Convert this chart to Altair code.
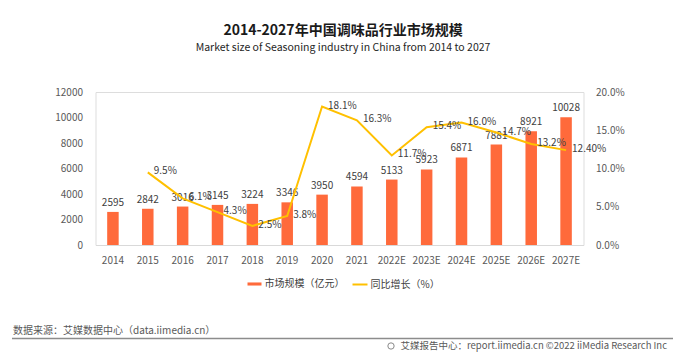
import altair as alt
import pandas as pd

FONT = "Noto Sans CJK SC"

years = ["2014", "2015", "2016", "2017", "2018", "2019", "2020", "2021",
         "2022E", "2023E", "2024E", "2025E", "2026E", "2027E"]
market_size = [2595, 2842, 3016, 3145, 3224, 3346, 3950, 4594,
               5133, 5923, 6871, 7881, 8921, 10028]
growth = [None, 9.5, 6.1, 4.3, 2.5, 3.8, 18.1, 16.3,
          11.7, 15.4, 16.0, 14.7, 13.2, 12.4]
growth_labels = ["", "9.5%", "6.1%", "4.3%", "2.5%", "3.8%", "18.1%", "16.3%",
                 "11.7%", "15.4%", "16.0%", "14.7%", "13.2%", "12.40%"]
left_ticks = [0, 2000, 4000, 6000, 8000, 10000, 12000]
right_ticks = [0, 5, 10, 15, 20]

bar_name = "市场规模（亿元）"
line_name = "同比增长（%）"
title_text = "2014-2027年中国调味品行业市场规模"
subtitle_text = "Market size of Seasoning industry in China from 2014 to 2027"
source_text = "数据来源：艾媒数据中心（data.iimedia.cn）"
footer_text = "艾媒报告中心：report.iimedia.cn   ©2022  iiMedia Research  Inc"

BAR_COLOR = "#FF6A3B"
LINE_COLOR = "#FFC000"
TXT = "#404040"
AX = "#595959"

df = pd.DataFrame({"year": years, "size": market_size,
                   "growth": growth, "glabel": growth_labels,
                   "bseries": [bar_name] * len(years),
                   "lseries": [line_name] * len(years)})

W, H = 488, 153

x_scale = alt.Scale(paddingInner=0.67, paddingOuter=0.335)
x_axis = alt.Axis(labelAngle=0, labelFont=FONT, labelFontSize=10,
                  labelColor=AX, labelPadding=10, ticks=False,
                  domain=True, domainColor="#D9D9D9", domainWidth=1.2,
                  grid=False, labelOverlap=False)
x_enc = alt.X("year:N", sort=years, title=None, scale=x_scale, axis=x_axis)

left_scale = alt.Scale(domain=[0, 12000], nice=False)
left_axis = alt.Axis(values=left_ticks, format="d",
                     labelFont=FONT, labelOverlap=False,
                     labelFontSize=10, labelColor=AX, labelPadding=13,
                     ticks=False, domain=False, grid=False)
y_left = alt.Y("size:Q", title=None, scale=left_scale, axis=left_axis)

right_scale = alt.Scale(domain=[0, 20], nice=False)
right_axis = alt.Axis(orient="right", values=right_ticks,
                      labelExpr="format(datum.value, '.1f') + '%'",
                      labelOverlap=False,
                      labelFont=FONT, labelFontSize=10, labelColor=AX,
                      labelPadding=12, ticks=False, domain=False, grid=False)
y_right = alt.Y("growth:Q", title=None, scale=right_scale, axis=right_axis)

base = alt.Chart(df)

bars = base.mark_bar(size=11.5).encode(
    x=x_enc,
    y=y_left,
    color=alt.Color("bseries:N",
                    scale=alt.Scale(domain=[bar_name], range=[BAR_COLOR]),
                    legend=alt.Legend(orient="none", legendX=151, legendY=184,
                                      title=None, symbolType="M-1,-0.22H1V0.22H-1Z",
                                      symbolSize=196, symbolOpacity=1,
                                      labelFont=FONT, labelFontSize=10,
                                      labelColor=TXT, labelOffset=2, padding=0)),
)

bar_text = base.mark_text(font=FONT, fontSize=10, color=TXT, dy=-6,
                          baseline="alphabetic", align="center").encode(
    x=x_enc,
    y=y_left,
    text="size:Q",
)

left = alt.layer(bars, bar_text)

line = base.mark_line(strokeWidth=2).encode(
    x=x_enc,
    y=y_right,
    stroke=alt.Stroke("lseries:N",
                      scale=alt.Scale(domain=[line_name], range=[LINE_COLOR]),
                      legend=alt.Legend(orient="none", legendX=256, legendY=184,
                                        title=None, symbolType="stroke",
                                        symbolSize=225, symbolStrokeWidth=2,
                                        labelFont=FONT, labelFontSize=10,
                                        labelColor=TXT, labelOffset=2, padding=0)),
)

line_text = base.transform_filter("datum.growth != null").mark_text(
    font=FONT, fontSize=10, color=TXT, align="left", baseline="middle", dx=6, dy=-1
).encode(
    x=x_enc,
    y=y_right,
    text="glabel:N",
)

right = alt.layer(line, line_text)

one = pd.DataFrame({"k": [0]})
src = alt.Chart(one).mark_text(font=FONT, fontSize=10, color=AX, align="left",
                               baseline="middle").encode(
    x=alt.value(13 - 95.5), y=alt.value(331 - 92), text=alt.value(source_text))
rule = alt.Chart(one).mark_rule(color="#8C8C8C", strokeWidth=1.5).encode(
    x=alt.value(12 - 95.5), x2=alt.value(673 - 95.5), y=alt.value(338.5 - 92))
foot = alt.Chart(one).mark_text(font=FONT, fontSize=9.5, color=AX, align="right",
                                baseline="middle").encode(
    x=alt.value(667 - 95.5), y=alt.value(346 - 92), text=alt.value(footer_text))
globe = alt.Chart(one).mark_point(shape="circle", size=40, color=AX, strokeWidth=1,
                                  filled=False).encode(
    x=alt.value(391 - 95.5), y=alt.value(346 - 92))

chart = alt.layer(left, right, src, rule, foot, globe).resolve_scale(
    y="independent", color="independent", stroke="independent"
).properties(
    width=W, height=H,
    autosize=alt.AutoSizeParams(type="none"),
    padding={"left": 87.5, "top": 84, "right": 97.5, "bottom": 110},
    title=alt.TitleParams(text=title_text, subtitle=subtitle_text, anchor="middle",
                          font=FONT, fontSize=14, fontWeight="bold", color="#1A1A1A",
                          subtitleFont=FONT, subtitleFontSize=10.5,
                          subtitleColor="#262626", subtitlePadding=5,
                          offset=34, dx=3.5),
).configure_view(stroke="transparent", strokeWidth=0, strokeOpacity=0).configure(
    background="white")

chart.save("out.html", embed_options={"renderer": "svg", "actions": False})
